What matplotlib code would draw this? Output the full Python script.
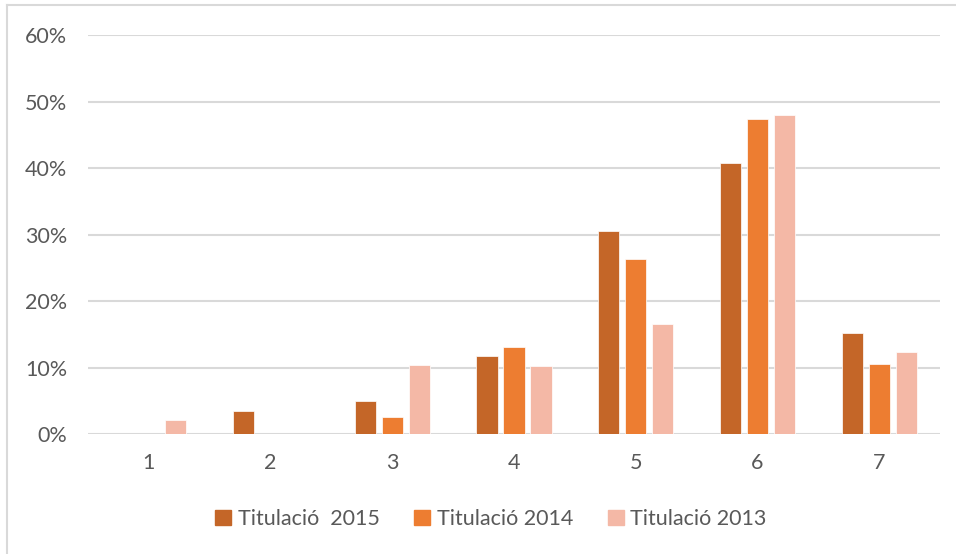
import matplotlib.pyplot as plt
import numpy as np
from matplotlib.lines import Line2D

categories = ["1", "2", "3", "4", "5", "6", "7"]
series_names = ["Titulació  2015", "Titulació 2014", "Titulació 2013"]
vals_2015 = [0.0, 3.4, 5.0, 11.8, 30.5, 40.7, 15.2]
vals_2014 = [0.0, 0.0, 2.6, 13.1, 26.3, 47.4, 10.5]
vals_2013 = [2.1, 0.0, 10.4, 10.3, 16.6, 48.0, 12.4]
colors = ["#C46628", "#ED7D31", "#F4B8A6"]

plt.rcParams["font.family"] = ["Lato", "DejaVu Sans"]
text_color = "#595959"
grid_color = "#D9D9D9"

fig = plt.figure(figsize=(9.56, 5.54), dpi=100)
ax = fig.add_axes([88 / 956, 1 - 434 / 554, 852 / 956, 399 / 554])

x = np.arange(len(categories))
width = 0.173
pitch = 0.222
for i, (vals, name, c) in enumerate(zip([vals_2015, vals_2014, vals_2013], series_names, colors)):
    ax.bar(x + (i - 1) * pitch, vals, width, color=c, label=name,
           edgecolor="white", linewidth=0.5, zorder=3)

ax.set_xlim(-0.5, len(categories) - 0.5)
ax.set_ylim(0, 60)
ax.set_yticks(range(0, 61, 10))
ax.set_yticklabels([f"{v}%" for v in range(0, 61, 10)])
ax.set_xticks(x)
ax.set_xticklabels(categories)
ax.grid(axis="y", color=grid_color, linewidth=1.5, zorder=0)
for s in ax.spines.values():
    s.set_visible(False)
ax.tick_params(length=0, colors=text_color, labelsize=15.5)
ax.tick_params(axis="y", pad=15)
ax.tick_params(axis="x", pad=14)

handles = [plt.Rectangle((0, 0), 1, 1, color=c) for c in colors]
fig.legend(handles, series_names, loc="center", bbox_to_anchor=(491 / 956, 1 - 519 / 554),
           ncol=3, frameon=False, fontsize=15.5, labelcolor=text_color,
           handlelength=0.75, handleheight=0.75, handletextpad=0.3, columnspacing=1.6)

# chart frame (top and left edges visible)
fig.add_artist(Line2D([7 / 956, 1], [1 - 5 / 554, 1 - 5 / 554], color=grid_color, linewidth=1.5))
fig.add_artist(Line2D([7 / 956, 7 / 956], [0, 1 - 5 / 554], color=grid_color, linewidth=1.5))

fig.savefig("out.png", dpi=100)
